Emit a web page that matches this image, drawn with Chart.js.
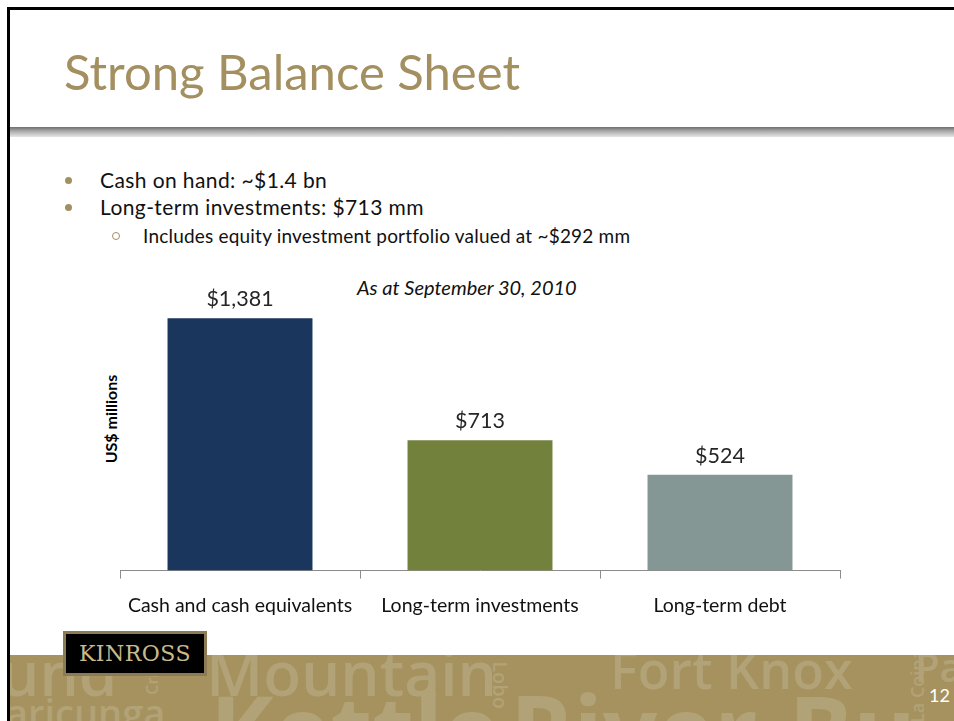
<!DOCTYPE html>
<html>
<head>
<meta charset="utf-8">
<script src="https://cdn.jsdelivr.net/npm/chart.js@4.4.0/dist/chart.umd.min.js"></script>
<style>
  body { margin: 0; width: 954px; height: 721px; overflow: hidden; background: #fff; font-family: Lato, "Open Sans", sans-serif; }
  #frame { position: absolute; left: 7px; top: 7px; width: 960px; height: 720px; border-top: 3px solid #000; border-left: 3px solid #000; }
  #title { position: absolute; left: 64px; top: 42px; font-size: 49px; color: #A38F5F; white-space: nowrap; }
  #rule { position: absolute; left: 10px; top: 127px; width: 944px; height: 10px; background: linear-gradient(#6f6f6f, #a8a8a8 40%, #e6e6e6); }
  .bul { position: absolute; font-size: 21px; letter-spacing: 0.4px; color: #111; white-space: nowrap; }
  .dot { position: absolute; width: 7px; height: 7px; border-radius: 50%; background: #A38F5F; }
  .sub { position: absolute; font-size: 19px; letter-spacing: 0.2px; color: #111; white-space: nowrap; }
  .ring { position: absolute; width: 6px; height: 6px; border-radius: 50%; border: 1.3px solid #A38F5F; }
  #asat { position: absolute; left: 357px; top: 275px; font-size: 20px; font-style: italic; color: #111; white-space: nowrap; }
  #ylab { position: absolute; left: 110px; top: 419px; font-size: 16px; font-weight: bold; color: #000; white-space: nowrap; transform: translate(-50%, -50%) rotate(-90deg); }
  #wrap { position: absolute; left: 110px; top: 270px; width: 740px; height: 362px; }
  #band { position: absolute; left: 10px; top: 655px; width: 944px; height: 66px; background: #A6925F; overflow: hidden; }
  .wm { position: absolute; color: #B2A277; font-family: "Open Sans", sans-serif; font-weight: 600; white-space: nowrap; line-height: 1; }
  #logo { position: absolute; left: 63px; top: 631px; width: 138px; height: 39px; background: #000; border: 3px solid #8C7B55; color: #C9B98E; font-family: "DejaVu Serif", serif; font-size: 22px; text-align: center; line-height: 39px; letter-spacing: 0.5px; }
  #page { position: absolute; left: 929px; top: 684px; font-size: 18px; color: #fff; }
</style>
</head>
<body>
<div id="frame"></div>
<div id="title">Strong Balance Sheet</div>
<div id="rule"></div>

<div class="dot" style="left:65px;top:177px"></div>
<div class="bul" style="left:100px;top:167px">Cash on hand: ~$1.4 bn</div>
<div class="dot" style="left:65px;top:204px"></div>
<div class="bul" style="left:100px;top:194px">Long-term investments: $713 mm</div>
<div class="ring" style="left:112px;top:232px"></div>
<div class="sub" style="left:143px;top:224px">Includes equity investment portfolio valued at ~$292 mm</div>

<div id="asat">As at September 30, 2010</div>
<div id="ylab">US$ millions</div>

<div id="wrap"><canvas id="chart"></canvas></div>

<div id="band">
  <div class="wm" style="left:-10px;top:-14px;font-size:62px">und</div>
  <div class="wm" style="left:118px;top:8px;font-size:16px;transform:rotate(-90deg)">Crixás</div>
  <div class="wm" style="left:196px;top:-14px;font-size:62px">Mountain</div>
  <div class="wm" style="left:466px;top:20px;font-size:20px;transform:rotate(90deg)">Lobo</div>
  <div class="wm" style="left:600px;top:-12px;font-size:52px">Fort Knox</div>
  <div class="wm" style="left:870px;top:22px;font-size:18px;transform:rotate(-90deg)">La Coipa</div>
  <div class="wm" style="left:905px;top:-8px;font-size:40px">Pa</div>
  <div class="wm" style="left:-4px;top:38px;font-size:38px">aricunga</div>
  <div class="wm" style="left:200px;top:26px;font-size:96px;font-weight:700">Kettle</div>
  <div class="wm" style="left:500px;top:26px;font-size:96px;font-weight:700">River-Bu</div>
</div>
<div id="logo">KINROSS</div>
<div id="page">12</div>

<script>
const categories = ['Cash and cash equivalents', 'Long-term investments', 'Long-term debt'];
const values = [1381, 713, 524];
const valueLabels = ['$1,381', '$713', '$524'];
const barColors = ['#1B365D', '#72813B', '#849794'];

// draws the value text above each bar
const valueLabelPlugin = {
  id: 'valueLabels',
  afterDatasetsDraw(chart) {
    const ctx = chart.ctx;
    const meta = chart.getDatasetMeta(0);
    ctx.save();
    ctx.font = '21.5px Lato, "Open Sans", sans-serif';
    ctx.fillStyle = '#262626';
    ctx.textAlign = 'center';
    ctx.textBaseline = 'alphabetic';
    meta.data.forEach((bar, i) => {
      ctx.fillText(valueLabels[i], bar.x, bar.y - 12);
    });
    ctx.restore();
  }
};

new Chart(document.getElementById('chart'), {
  type: 'bar',
  data: {
    labels: categories,
    datasets: [{
      data: values,
      backgroundColor: barColors,
      barPercentage: 1,
      categoryPercentage: 0.604
    }]
  },
  options: {
    responsive: true,
    maintainAspectRatio: false,
    animation: false,
    layout: { padding: { left: 10, right: 10, top: 0, bottom: 0 } },
    plugins: { legend: { display: false }, tooltip: { enabled: false } },
    scales: {
      x: {
        grid: { display: true, offset: true, drawOnChartArea: false, drawTicks: true, tickLength: 8, color: '#8c8c8c', lineWidth: 1 },
        border: { display: true, color: '#8c8c8c', width: 1 },
        ticks: { color: '#111', padding: 15, font: { size: 19.5, family: 'Lato, "Open Sans", sans-serif' } }
      },
      y: {
        display: false,
        min: 0,
        max: 1645
      }
    }
  },
  plugins: [valueLabelPlugin]
});
</script>
</body>
</html>
